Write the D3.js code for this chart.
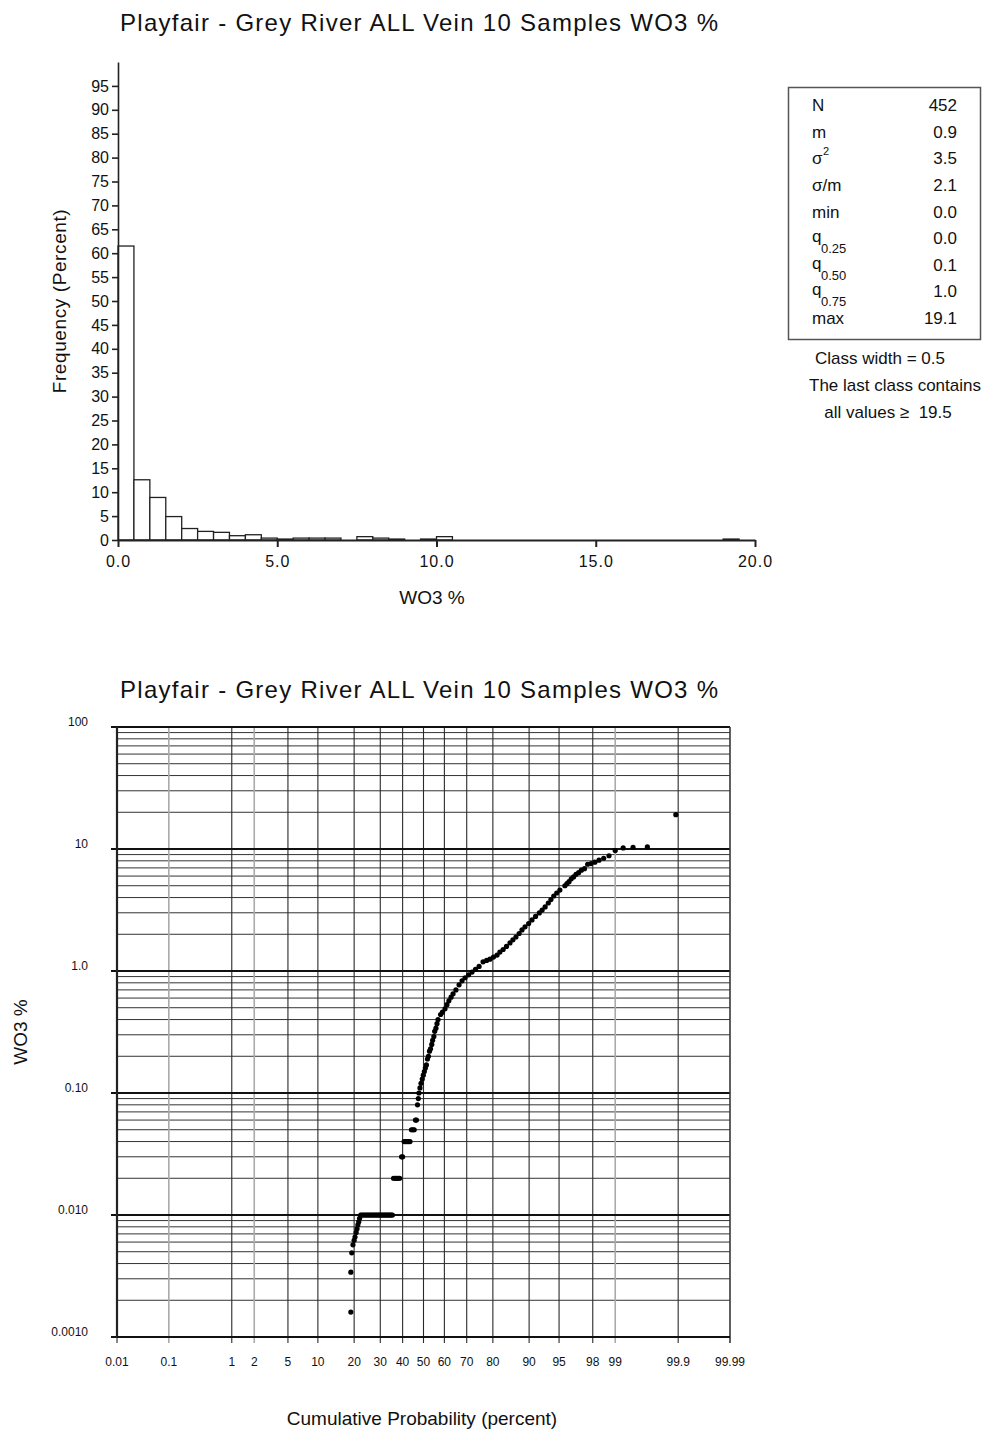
<!DOCTYPE html>
<html><head><meta charset="utf-8">
<script src="https://cdn.jsdelivr.net/npm/d3@7"></script>
<style>
body{margin:0;background:#fff;}
svg text{font-family:"Liberation Sans",Arial,sans-serif;fill:#111;white-space:pre;}
</style></head>
<body><svg id="c" width="999" height="1434"></svg>
<script>
// ---------------- DATA ----------------
const chartTitle = "Playfair - Grey River ALL Vein 10 Samples WO3 %";
const classWidth = 0.5;
// histogram frequency (percent) per class, classes start at 0.0
const freqPct = [61.5,12.6,8.9,4.9,2.4,1.8,1.6,0.9,1.1,0.4,
                 0.2,0.4,0.4,0.4,0,0.7,0.4,0.2,0,0.2,
                 0.7,0,0,0,0,0,0,0,0,0,
                 0,0,0,0,0,0,0,0,0.2,0];
const histYTicks = [0,5,10,15,20,25,30,35,40,45,50,55,60,65,70,75,80,85,90,95];
const histXTicks = [0,5,10,15,20];
const statLabels = ["N","m","σ2","σ/m","min","q0.25","q0.50","q0.75","max"];
const statValues = ["452","0.9","3.5","2.1","0.0","0.0","0.1","1.0","19.1"];
const noteLines = ["Class width = 0.5","The last class contains","all values \u2265  19.5"];

// probability plot (cumulative percent, WO3 %)
const cumPct = [18.9,18.9,19.2,19.6,20.0,20.3,20.7,21.0,21.3,21.6,21.9,
 22.3,22.8,23.3,23.8,24.3,24.8,25.3,25.8,26.3,26.8,27.3,27.8,28.3,28.8,29.3,29.8,30.3,30.8,31.3,31.8,32.3,32.8,33.3,33.8,34.3,34.8,35.3,
 35.8,36.5,37.2,37.9,38.6,
 39.5,40.0,
 40.7,41.4,42.1,42.8,43.5,
 44.2,44.9,45.5,
 46.1,46.6,
 47.1,47.5,
 47.8,48.3,48.8,49.4,49.9,50.4,50.9,51.4,51.9,52.4,52.9,53.4,54.0,54.4,55.0,55.4,56.0,56.5,57.0,
 58.2,59.1,60.3,61.2,62.1,63.1,64.0,65.3,66.7,68.0,69.3,70.8,72.2,73.6,75.0,76.5,
 77.8,79.0,80.2,81.4,82.3,83.3,84.3,85.3,86.1,86.9,87.7,88.4,89.1,89.9,90.6,91.3,92.0,92.5,93.0,93.5,93.9,94.3,94.7,95.1,
 95.69,95.91,96.13,96.35,96.57,96.79,97.01,97.23,97.46,97.68,97.90,98.12,98.34,98.56,98.78,99.00,99.23,99.45,99.67,99.89];
const wo3 = [0.0016,0.0034,0.0049,0.0057,0.0062,0.0066,0.0072,0.0077,0.0083,0.0088,0.0094,
 0.01,0.01,0.01,0.01,0.01,0.01,0.01,0.01,0.01,0.01,0.01,0.01,0.01,0.01,0.01,0.01,0.01,0.01,0.01,0.01,0.01,0.01,0.01,0.01,0.01,0.01,0.01,
 0.02,0.02,0.02,0.02,0.02,
 0.03,0.03,
 0.04,0.04,0.04,0.04,0.04,
 0.05,0.05,0.05,
 0.06,0.06,
 0.08,0.09,
 0.10,0.11,0.12,0.13,0.14,0.15,0.16,0.17,0.19,0.20,0.22,0.23,0.25,0.27,0.29,0.32,0.34,0.37,0.40,
 0.44,0.46,0.49,0.53,0.57,0.61,0.65,0.70,0.77,0.83,0.88,0.93,0.98,1.03,1.09,1.19,
 1.22,1.25,1.30,1.35,1.43,1.50,1.59,1.70,1.80,1.90,2.03,2.17,2.30,2.45,2.62,2.80,2.99,3.16,3.35,3.61,3.85,4.12,4.36,4.61,
 5.0,5.2,5.4,5.7,5.9,6.2,6.4,6.7,6.9,7.5,7.6,7.8,8.1,8.4,8.8,9.7,10.2,10.3,10.4,19.1];
const probTicks = [0.01,0.1,1,2,5,10,20,30,40,50,60,70,80,90,95,98,99,99.9,99.99];
const probTickLabels = ["0.01","0.1","1","2","5","10","20","30","40","50","60","70","80","90","95","98","99","99.9","99.99"];
const valueTicks = [0.001,0.01,0.1,1,10,100];
const valueTickLabels = ["0.0010","0.010","0.10","1.0","10","100"];

// ---------------- DRAW ----------------
const svg = d3.select("#c");

// ===== Histogram =====
const hx = d3.scaleLinear().domain([0,20]).range([118,755]);
const hy = d3.scaleLinear().domain([0,100]).range([540,62]);

svg.append("text").attr("x",120).attr("y",31).attr("font-size",24)
  .attr("textLength",598).attr("lengthAdjust","spacing").text(chartTitle);

const bars = freqPct.map((f,i)=>({x0:i*classWidth,x1:(i+1)*classWidth,f})).filter(d=>d.f>0);
svg.append("g").selectAll("rect").data(bars).join("rect")
  .attr("x",d=>hx(d.x0)).attr("width",d=>hx(d.x1)-hx(d.x0))
  .attr("y",d=>hy(d.f)).attr("height",d=>hy(0)-hy(d.f))
  .attr("fill","#fff").attr("stroke","#222").attr("stroke-width",1.3);

const gy = svg.append("g").attr("transform","translate(118,0)")
  .call(d3.axisLeft(hy).tickValues(histYTicks).tickSize(6).tickSizeOuter(0).tickPadding(3));
gy.selectAll("text").attr("font-size",16).attr("font-family","Liberation Sans, Arial, sans-serif").attr("fill","#111");
gy.selectAll("line,path").attr("stroke","#222").attr("stroke-width",1.6);

const gx = svg.append("g").attr("transform","translate(0,540)")
  .call(d3.axisBottom(hx).tickValues(histXTicks).tickFormat(d3.format(".1f")).tickSize(7).tickSizeOuter(0).tickPadding(9));
gx.selectAll("text").attr("font-size",16).attr("letter-spacing","1px").attr("font-family","Liberation Sans, Arial, sans-serif").attr("fill","#111");
gx.selectAll("line,path").attr("stroke","#222").attr("stroke-width",2);

svg.append("text").attr("transform","translate(66,301) rotate(-90)").attr("text-anchor","middle")
  .attr("font-size",19).attr("letter-spacing","0.6px").text("Frequency (Percent)");
svg.append("text").attr("x",432).attr("y",604).attr("text-anchor","middle")
  .attr("font-size",19).text("WO3 %");

// stats box
svg.append("rect").attr("x",788.5).attr("y",87.5).attr("width",192).attr("height",252)
  .attr("fill","#fff").attr("stroke","#555").attr("stroke-width",1.5);
const rowY = [111,138,164,191,218,244,271,297,324];
statLabels.forEach((lab,i)=>{
  const t = svg.append("text").attr("x",812).attr("y",rowY[i]).attr("font-size",17);
  if (lab.startsWith("q")) {
    t.attr("y",rowY[i]-2).text("q");
    svg.append("text").attr("x",821).attr("y",rowY[i]+9).attr("font-size",13).text(lab.slice(1));
  } else if (lab==="σ2") {
    t.text("σ");
    svg.append("text").attr("x",823).attr("y",rowY[i]-9).attr("font-size",11).text("2");
  } else t.text(lab);
  svg.append("text").attr("x",957).attr("y",rowY[i]).attr("text-anchor","end").attr("font-size",17).text(statValues[i]);
});
const noteX = [880,895,888], noteY=[364,391,418];
noteLines.forEach((s,i)=>svg.append("text").attr("x",noteX[i]).attr("y",noteY[i]).attr("text-anchor","middle").attr("font-size",17).text(s));

// ===== Probability plot =====
function probit(p){ // inverse standard normal CDF (Acklam)
  const a=[-3.969683028665376e+01,2.209460984245205e+02,-2.759285104469687e+02,1.383577518672690e+02,-3.066479806614716e+01,2.506628277459239e+00];
  const b=[-5.447609879822406e+01,1.615858368580409e+02,-1.556989798598866e+02,6.680131188771972e+01,-1.328068155288572e+01];
  const c=[-7.784894002430293e-03,-3.223964580411365e-01,-2.400758277161838e+00,-2.549671007135331e+00,4.374664141464968e+00,2.938163982698783e+00];
  const d=[7.784695709041462e-03,3.224671290700398e-01,2.445134137142996e+00,3.754408661907416e+00];
  const pl=0.02425, ph=1-pl; let q,r;
  if(p<pl){q=Math.sqrt(-2*Math.log(p));return (((((c[0]*q+c[1])*q+c[2])*q+c[3])*q+c[4])*q+c[5])/((((d[0]*q+d[1])*q+d[2])*q+d[3])*q+1);}
  if(p<=ph){q=p-0.5;r=q*q;return (((((a[0]*r+a[1])*r+a[2])*r+a[3])*r+a[4])*r+a[5])*q/(((((b[0]*r+b[1])*r+b[2])*r+b[3])*r+b[4])*r+1);}
  q=Math.sqrt(-2*Math.log(1-p));return -(((((c[0]*q+c[1])*q+c[2])*q+c[3])*q+c[4])*q+c[5])/((((d[0]*q+d[1])*q+d[2])*q+d[3])*q+1);
}
const zScale = d3.scaleLinear().domain([probit(0.0001),probit(0.9999)]).range([117,730]);
const px = p => zScale(probit(p/100));
const py = d3.scaleLog().domain([0.001,100]).range([1337,727]);

svg.append("text").attr("x",120).attr("y",698).attr("font-size",24)
  .attr("textLength",598).attr("lengthAdjust","spacing").text(chartTitle);

const grid = svg.append("g");
const minorVals = [];
for (let e=-3;e<2;e++) for (let k=2;k<=9;k++) minorVals.push(k*Math.pow(10,e));
grid.selectAll("line.hmin").data(minorVals).join("line").attr("class","hmin")
  .attr("x1",117).attr("x2",730).attr("y1",d=>py(d)).attr("y2",d=>py(d))
  .attr("stroke","#333").attr("stroke-width",1);
const greyV = new Set([0.1,2,99]);
grid.selectAll("line.v").data(probTicks).join("line").attr("class","v")
  .attr("x1",d=>px(d)).attr("x2",d=>px(d)).attr("y1",727).attr("y2",1343)
  .attr("stroke",d=>greyV.has(d)?"#aaa":"#2a2a2a").attr("stroke-width",d=>greyV.has(d)?1.6:1.1);
grid.selectAll("line.hmaj").data(valueTicks).join("line").attr("class","hmaj")
  .attr("x1",111).attr("x2",730).attr("y1",d=>py(d)).attr("y2",d=>py(d))
  .attr("stroke","#111").attr("stroke-width",1.8);
grid.append("line").attr("x1",117).attr("x2",117).attr("y1",727).attr("y2",1338).attr("stroke","#222").attr("stroke-width",2.2);
grid.append("line").attr("x1",730).attr("x2",730).attr("y1",727).attr("y2",1343).attr("stroke","#444").attr("stroke-width",1.2);
grid.append("line").attr("x1",117).attr("x2",730).attr("y1",1337).attr("y2",1337).attr("stroke","#111").attr("stroke-width",2.2);

svg.append("g").selectAll("text").data(valueTicks).join("text")
  .attr("x",88).attr("y",(d)=>py(d)-1).attr("text-anchor","end").attr("font-size",12)
  .text((d,i)=>valueTickLabels[i]);
svg.append("g").selectAll("text").data(probTicks).join("text")
  .attr("x",d=>px(d)).attr("y",1366).attr("text-anchor","middle").attr("font-size",12)
  .text((d,i)=>probTickLabels[i]);

svg.append("text").attr("transform","translate(27,1032) rotate(-90)").attr("text-anchor","middle")
  .attr("font-size",19).text("WO3 %");
svg.append("text").attr("x",422).attr("y",1425).attr("text-anchor","middle")
  .attr("font-size",19).text("Cumulative Probability (percent)");

svg.append("g").selectAll("circle").data(cumPct.map((p,i)=>({p,v:wo3[i]}))).join("circle")
  .attr("cx",d=>px(d.p)).attr("cy",d=>py(d.v)).attr("r",2.6).attr("fill","#000");
</script></body></html>
